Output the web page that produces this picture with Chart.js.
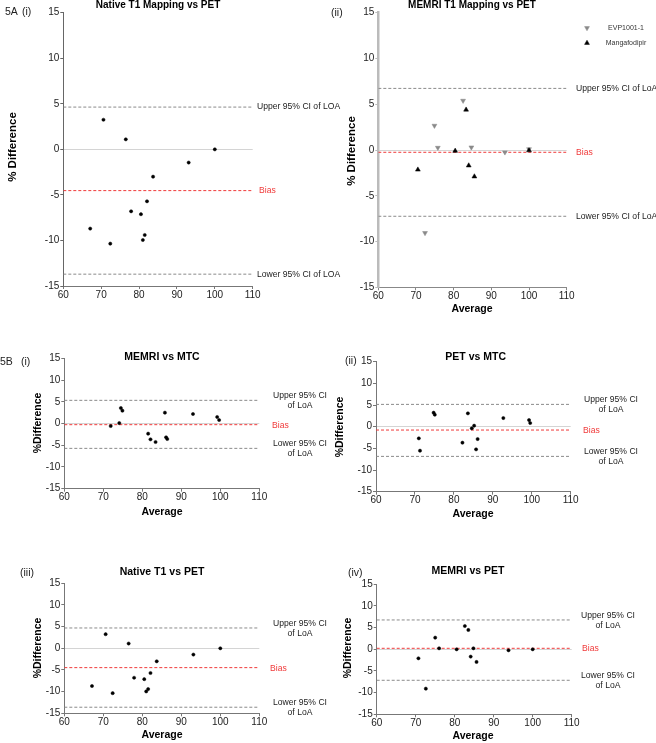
<!DOCTYPE html>
<html><head><meta charset="utf-8">
<script src="https://cdn.jsdelivr.net/npm/chart.js@4/dist/chart.umd.min.js"></script>
<style>
html,body{margin:0;padding:0;background:#fff;}
#wrap{position:relative;width:656px;height:743px;overflow:hidden;background:#fff;}
canvas{position:absolute;left:0;top:0;}
</style></head><body><div id="wrap">
<canvas id="c0" width="656" height="743"></canvas>
<canvas id="c1" width="656" height="743"></canvas>
<canvas id="c2" width="656" height="743"></canvas>
<canvas id="c3" width="656" height="743"></canvas>
<canvas id="c4" width="656" height="743"></canvas>
<canvas id="c5" width="656" height="743"></canvas>
</div>
<script>
// ---------- DATA ----------
const xTicks = [60, 70, 80, 90, 100, 110];
const yTicks = [-15, -10, -5, 0, 5, 10, 15];

// Native T1 vs PET (5A i and 5B iii)
const nativeAvg  = [70.6, 76.5, 100, 93.1, 83.7, 82.1, 77.9, 80.5, 67.1, 81.5, 81.0, 72.4];
const nativeDiff = [3.25, 1.1, 0, -1.45, -3.0, -5.7, -6.8, -7.12, -8.7, -9.4, -9.95, -10.35];

// MEMRI T1 mapping vs PET, split by agent (5A ii)
const evpAvg   = [82.5, 74.9, 75.8, 84.7, 93.6, 72.4, 100];
const evpDiff  = [5.39, 2.66, 0.25, 0.29, -0.25, -9.06, 0.1];
const mangAvg  = [83.3, 80.4, 84.0, 85.5, 70.5, 100];
const mangDiff = [4.4, -0.1, -1.7, -2.9, -2.15, -0.05];

// MEMRI vs PET (5B iv)
const memriPetAvg  = [70.7, 72.6, 75.0, 76.0, 80.5, 82.6, 83.5, 84.1, 84.8, 85.6, 93.8, 100];
const memriPetDiff = [-2.08, -9.08, 2.69, 0.23, 0, 5.38, 4.46, -1.69, 0.23, -2.92, -0.23, 0];

// MEMRI vs MTC (5B i)
const memriMtcAvg  = [71.9, 74.1, 74.5, 74.9, 81.5, 82.1, 83.4, 85.8, 86.1, 86.4, 93.0, 99.2, 99.7];
const memriMtcDiff = [-0.58, 0.1, 3.57, 2.95, -2.34, -3.65, -4.26, 2.49, -3.18, -3.57, 2.19, 1.5, 0.8];

// PET vs MTC (5B ii)
const petMtcAvg  = [71.0, 71.3, 74.8, 75.1, 82.2, 83.6, 84.6, 85.2, 85.7, 86.1, 92.7, 99.3, 99.6];
const petMtcDiff = [-2.69, -5.54, 3.23, 2.77, -3.69, 3.08, -0.38, 0.23, -5.23, -2.85, 2.0, 1.54, 0.85];

// Limits of agreement per panel: A-i, A-ii, B-i, B-ii, B-iii, B-iv
const upperLoA = [4.64, 6.73, 5.33, 5.15, 4.69, 6.77];
const biasVals = [-4.53, -0.25, -0.27, -0.77, -4.46, 0.23];
const lowerLoA = [-13.7, -7.24, -5.72, -6.85, -13.6, -7.15];

const panelTitles = ['Native T1 Mapping vs PET', 'MEMRI T1 Mapping vs PET', 'MEMRI vs MTC', 'PET vs MTC', 'Native T1 vs PET', 'MEMRI vs PET'];
const legendLabels = ['EVP1001-1', 'Mangafodipir'];

// ---------- HELPERS ----------
const X_MIN = 60, X_MAX = 110, Y_MIN = -15, Y_MAX = 15;
const FONT = '"Liberation Sans", Arial, sans-serif';
const EVP_COLOR = '#8a8a8a', MANG_COLOR = '#000';
const pts = (xs, ys) => xs.map((x, i) => ({x, y: ys[i]}));
const hline = (v) => [{x: X_MIN, y: v}, {x: X_MAX, y: v}];

function lineDs(v, color) {
  return {type: 'line', data: hline(v), borderColor: color, borderWidth: 1, borderDash: [3, 2],
          pointRadius: 0, fill: false, order: 5};
}
function dotDs(data) {
  return {type: 'scatter', data, pointRadius: 1.6, pointBackgroundColor: '#000', pointBorderColor: '#000',
          pointBorderWidth: 0.5, order: 1};
}

function textPlugin(p, idx) {
  return {
    id: 'txt' + idx,
    afterDraw(chart) {
      const ctx = chart.ctx, y = chart.scales.y;
      ctx.save();
      ctx.textBaseline = 'middle';
      // title
      ctx.fillStyle = '#000';
      ctx.font = 'bold ' + p.titleSize + 'px ' + FONT;
      ctx.textAlign = 'center';
      ctx.fillText(panelTitles[idx], p.title[0], p.title[1]);
      // panel labels
      ctx.font = '10.5px ' + FONT;
      ctx.textAlign = 'left';
      ctx.fillStyle = '#222';
      p.labels.forEach(l => ctx.fillText(l[0], l[1], l[2]));
      // axis titles
      ctx.fillStyle = '#000';
      if (p.xTitle) {
        ctx.font = 'bold 10.5px ' + FONT;
        ctx.textAlign = 'center';
        ctx.fillText('Average', p.xTitle[0], p.xTitle[1]);
      }
      ctx.save();
      ctx.translate(p.yTitle[0], p.yTitle[1]);
      ctx.rotate(-Math.PI / 2);
      ctx.font = 'bold ' + p.yTitleSize + 'px ' + FONT;
      ctx.textAlign = 'center';
      ctx.fillText(p.yTitleText, 0, 0);
      ctx.restore();
      // LoA labels
      const yu = y.getPixelForValue(upperLoA[idx]);
      const yb = y.getPixelForValue(biasVals[idx]);
      const yl = y.getPixelForValue(lowerLoA[idx]);
      ctx.font = '8.6px ' + FONT;
      ctx.fillStyle = '#222';
      if (p.twoLine) {
        ctx.textAlign = 'center';
        ctx.fillText('Upper 95% CI', p.loaX, yu - 4.5);
        ctx.fillText('of LoA', p.loaX, yu + 5.5);
        ctx.fillText('Lower 95% CI', p.loaX, yl - 4.5);
        ctx.fillText('of LoA', p.loaX, yl + 5.5);
      } else {
        ctx.textAlign = 'left';
        ctx.fillText('Upper 95% CI of ' + p.loaWord, p.loaX, yu);
        ctx.fillText('Lower 95% CI of ' + p.loaWord, p.loaX, yl);
      }
      ctx.textAlign = 'left';
      ctx.fillStyle = '#f03a3a';
      ctx.fillText('Bias', p.biasX, yb + 0.5);
      // legend
      if (p.legend) {
        ctx.fillStyle = EVP_COLOR; ctx.strokeStyle = EVP_COLOR; ctx.lineWidth = 0.5;
        Chart.helpers.drawPoint(ctx, {pointStyle: 'triangle', rotation: 180, radius: 2.8, borderWidth: 0.5},
                                p.legend[0], p.legend[1]);
        ctx.fillStyle = MANG_COLOR; ctx.strokeStyle = MANG_COLOR;
        Chart.helpers.drawPoint(ctx, {pointStyle: 'triangle', rotation: 0, radius: 2.8, borderWidth: 0.5},
                                p.legend[0], p.legend[3]);
        ctx.fillStyle = '#333';
        ctx.font = '7px ' + FONT;
        ctx.textAlign = 'center';
        ctx.fillText(legendLabels[0], p.legend[2], p.legend[1]);
        ctx.fillText(legendLabels[1], p.legend[2], p.legend[3]);
      }
      ctx.restore();
    }
  };
}

function makeChart(idx, p, pointSets) {
  const YW = 40, XH = 24;
  const a = p.area;
  const datasets = [
    lineDs(upperLoA[idx], '#8a8a8a'),
    lineDs(lowerLoA[idx], '#8a8a8a'),
    lineDs(biasVals[idx], '#f03a3a'),
    ...pointSets
  ];
  const tickFont = {family: FONT, size: 10};
  new Chart(document.getElementById('c' + idx), {
    type: 'scatter',
    data: {datasets},
    options: {
      responsive: false, animation: false, devicePixelRatio: 1,
      layout: {padding: {left: a.l - YW, top: a.t, right: 656 - a.r, bottom: 743 - a.b - XH}},
      plugins: {legend: {display: false}, tooltip: {enabled: false}, title: {display: false}},
      scales: {
        x: {
          type: 'linear', min: X_MIN, max: X_MAX,
          afterFit(s) { s.height = XH; },
          afterBuildTicks(s) { s.ticks = xTicks.map(v => ({value: v})); },
          ticks: {font: tickFont, color: '#222', padding: 0, maxRotation: 0, autoSkip: false},
          grid: {display: true, drawOnChartArea: false, drawTicks: true, tickLength: 3, tickColor: p.xAxisColor},
          border: {display: true, color: p.xAxisColor, width: 1}
        },
        y: {
          type: 'linear', min: Y_MIN, max: Y_MAX,
          afterFit(s) { s.width = YW; },
          afterBuildTicks(s) { s.ticks = yTicks.map(v => ({value: v})); },
          ticks: {font: tickFont, color: '#222', padding: 1, autoSkip: false},
          grid: {display: true, drawOnChartArea: true, drawTicks: true, tickLength: 3,
                 color: (c) => (c.tick && c.tick.value === 0) ? '#d4d4d4' : 'rgba(0,0,0,0)',
                 tickColor: p.yAxisColor},
          border: {display: true, color: p.yAxisColor, width: p.yAxisWidth}
        }
      }
    },
    plugins: [textPlugin(p, idx)]
  });
}

// ---------- PANELS ----------
makeChart(0, {
  area: {l: 63.3, t: 12.7, r: 252.7, b: 286},
  title: [158, 5], titleSize: 10,
  labels: [['5A', 5, 12], ['(i)', 22, 12]],
  xTitle: null, yTitle: [13, 147], yTitleSize: 11.5, yTitleText: '% Difference',
  twoLine: false, loaX: 257, loaWord: 'LOA', biasX: 259,
  xAxisColor: '#777', yAxisColor: '#666', yAxisWidth: 1
}, [dotDs(pts(nativeAvg, nativeDiff))]);

makeChart(1, {
  area: {l: 378.3, t: 12.7, r: 566.7, b: 287.3},
  title: [472, 5], titleSize: 10,
  labels: [['(ii)', 331, 13]],
  xTitle: [472, 309], yTitle: [352, 151], yTitleSize: 11.5, yTitleText: '% Difference',
  twoLine: false, loaX: 576, loaWord: 'LoA', biasX: 576,
  xAxisColor: '#888', yAxisColor: '#bbb', yAxisWidth: 2.5,
  legend: [587, 28, 626, 43]
}, [
  {type: 'scatter', data: pts(evpAvg, evpDiff), pointStyle: 'triangle', rotation: 180, pointRadius: 2.8,
   pointBackgroundColor: EVP_COLOR, pointBorderColor: EVP_COLOR, pointBorderWidth: 0.5, order: 2},
  {type: 'scatter', data: pts(mangAvg, mangDiff), pointStyle: 'triangle', pointRadius: 2.8,
   pointBackgroundColor: MANG_COLOR, pointBorderColor: MANG_COLOR, pointBorderWidth: 0.5, order: 1}
]);

makeChart(2, {
  area: {l: 64.3, t: 358.3, r: 259.3, b: 488.7},
  title: [162, 357], titleSize: 10.5,
  labels: [['5B', 0, 362], ['(i)', 21, 362]],
  xTitle: [162, 512], yTitle: [38, 423], yTitleSize: 10.5, yTitleText: '%Difference',
  twoLine: true, loaX: 300, biasX: 272,
  xAxisColor: '#777', yAxisColor: '#777', yAxisWidth: 1
}, [dotDs(pts(memriMtcAvg, memriMtcDiff))]);

makeChart(3, {
  area: {l: 376, t: 361.7, r: 570.7, b: 491.7},
  title: [475.7, 357], titleSize: 10.5,
  labels: [['(ii)', 345, 361]],
  xTitle: [473, 514], yTitle: [340, 427], yTitleSize: 10.5, yTitleText: '%Difference',
  twoLine: true, loaX: 611, biasX: 583,
  xAxisColor: '#777', yAxisColor: '#777', yAxisWidth: 1
}, [dotDs(pts(petMtcAvg, petMtcDiff))]);

makeChart(4, {
  area: {l: 64.3, t: 583.3, r: 259.3, b: 713.3},
  title: [162, 572], titleSize: 10.5,
  labels: [['(iii)', 20, 573]],
  xTitle: [162, 735], yTitle: [38, 648], yTitleSize: 10.5, yTitleText: '%Difference',
  twoLine: true, loaX: 300, biasX: 270,
  xAxisColor: '#777', yAxisColor: '#777', yAxisWidth: 1
}, [dotDs(pts(nativeAvg, nativeDiff))]);

makeChart(5, {
  area: {l: 376.7, t: 584.3, r: 571.7, b: 714.3},
  title: [468, 571], titleSize: 10.5,
  labels: [['(iv)', 348, 573]],
  xTitle: [473, 736.5], yTitle: [348, 648], yTitleSize: 10.5, yTitleText: '%Difference',
  twoLine: true, loaX: 608, biasX: 582,
  xAxisColor: '#777', yAxisColor: '#777', yAxisWidth: 1
}, [dotDs(pts(memriPetAvg, memriPetDiff))]);
</script>
</body></html>
